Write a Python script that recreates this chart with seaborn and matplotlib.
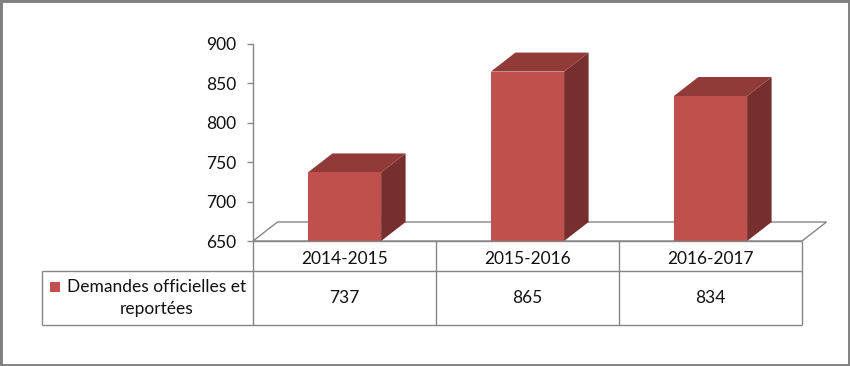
import matplotlib
matplotlib.use("Agg")
import matplotlib.pyplot as plt
import seaborn as sns
import pandas as pd
from matplotlib.patches import Polygon, Rectangle

categories = ["2014-2015", "2015-2016", "2016-2017"]
values = [737, 865, 834]
series_name = "Demandes officielles et\nreportées"
yticks = [650, 700, 750, 800, 850, 900]

sns.set_theme(style="white")
plt.rcParams["font.family"] = ["Lato", "DejaVu Sans"]

W, H = 850, 366
fig = plt.figure(figsize=(W / 100, H / 100), dpi=100)
fig.patch.set_facecolor("white")

def fx(px):
    return px / W

def fy(py):
    return 1 - py / H

FS = 12.5

# main plot axes: x 253..802 px, y 44..241 px
ax = fig.add_axes([fx(253), fy(241), fx(802) - fx(253), fy(44) - fy(241)])
df = pd.DataFrame({"cat": categories, "val": values})
front = "#C0504D"
top_c = "#913B39"
side_c = "#772F2D"
sns.barplot(data=df, x="cat", y="val", color=front, width=0.4, ax=ax,
            saturation=1, zorder=3, linewidth=0)
ax.set_xlim(-0.5, 2.5)
ax.set_ylim(650, 900)
ax.set_yticks(yticks)
ax.set_xlabel("")
ax.set_ylabel("")
ax.set_xticks([])
for s in ["top", "right", "bottom"]:
    ax.spines[s].set_visible(False)
ax.spines["left"].set_color("#868686")
ax.spines["left"].set_linewidth(1.0)
ax.tick_params(axis="y", which="both", left=True, length=4, width=1.0,
               color="#868686", labelsize=FS, labelcolor="#111111", pad=8)
ax.patch.set_alpha(0)

# depth offset (pixels -> data)
px_per_cat = (802 - 253) / 3
px_per_val = (241 - 44) / 250
dx = 24.5 / px_per_cat
dy = 19 / px_per_val

x0, x1 = ax.get_xlim()
ybase = 650
floor = Polygon([(x0, ybase), (x1, ybase), (x1 + dx, ybase + dy), (x0 + dx, ybase + dy)],
                closed=True, facecolor="none", edgecolor="#868686", lw=1.0,
                clip_on=False, zorder=1)
ax.add_patch(floor)

for p in ax.patches[:]:
    if p is floor:
        continue
    bx0 = p.get_x()
    bx1 = bx0 + p.get_width()
    v = p.get_height()
    side = Polygon([(bx1, ybase), (bx1, v), (bx1 + dx, v + dy), (bx1 + dx, ybase + dy)],
                   closed=True, facecolor=side_c, edgecolor="none", clip_on=False, zorder=2.5)
    top = Polygon([(bx0, v), (bx1, v), (bx1 + dx, v + dy), (bx0 + dx, v + dy)],
                  closed=True, facecolor=top_c, edgecolor="none", clip_on=False, zorder=2.5)
    ax.add_patch(side)
    ax.add_patch(top)

# data table axes: x 42..802 px, y 241..325 px
tax = fig.add_axes([fx(42), fy(325), fx(802) - fx(42), fy(241) - fy(325)])
left = -(253 - 42) / px_per_cat
tax.set_xlim(left, 3)
tax.set_ylim(0, 84)
tax.axis("off")
lc = "#868686"
lw = 1.0
kw = dict(color=lc, lw=lw, clip_on=False, solid_capstyle="butt")
tax.plot([0, 3], [84, 84], **kw)
tax.plot([left, 3], [54, 54], **kw)
tax.plot([left, 3], [0, 0], **kw)
for xv in [0, 1, 2, 3]:
    tax.plot([xv, xv], [0, 84], **kw)
tax.plot([left, left], [0, 54], **kw)

tc = "#111111"
for i, (c, v) in enumerate(zip(categories, values)):
    tax.text(i + 0.5, 66, c, ha="center", va="center", fontsize=FS, color=tc)
    tax.text(i + 0.5, 27, str(v), ha="center", va="center", fontsize=FS, color=tc)

# legend key + series name
lab_cx = (157 - 42) / px_per_cat + left
tax.text(lab_cx, 27, series_name, ha="center", va="center", fontsize=FS,
         color=tc, linespacing=1.4)
kx = (50 - 42) / px_per_cat + left
kw_ = 10 / px_per_cat
tax.add_patch(Rectangle((kx, 325 - 292), kw_, 10, facecolor=front,
                        edgecolor="none", clip_on=False))

# figure border
fig.add_artist(Rectangle((0, 0), 1, 1, transform=fig.transFigure, fill=False,
                         edgecolor="#808080", lw=3.5))

fig.savefig("out.png", dpi=100)
